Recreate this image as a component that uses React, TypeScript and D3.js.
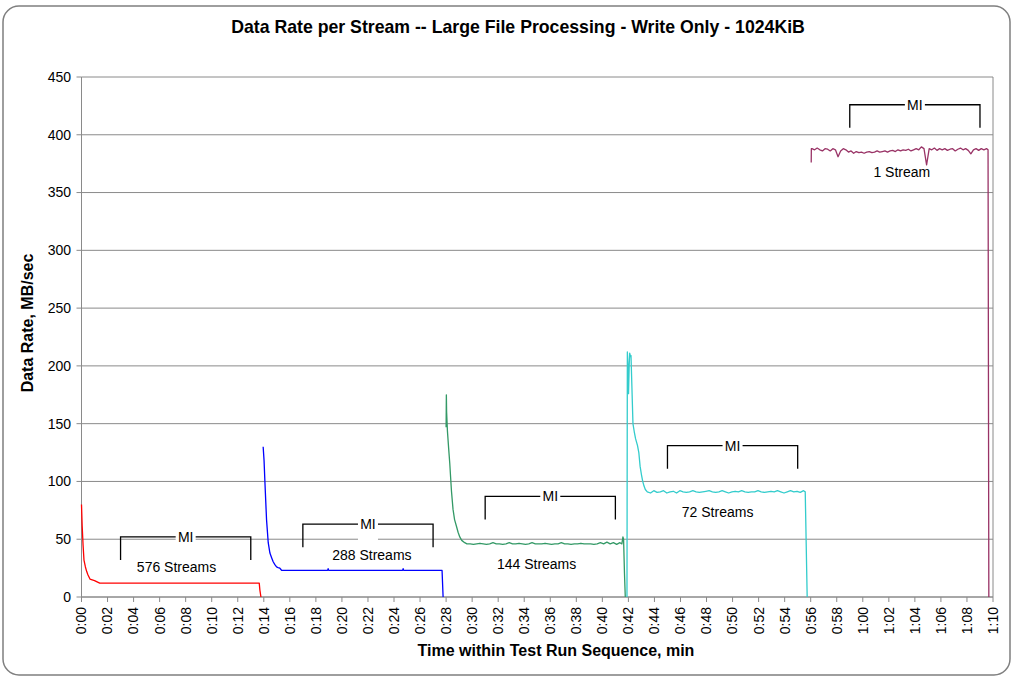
import React from "react";
import * as d3 from "d3";

type Pt = [number, number];

// ---- data (minutes, MB/sec) ----
const redPoints: Pt[] = [
  [0, 80], [0.05, 62], [0.12, 45], [0.19, 32], [0.3, 26], [0.4, 22], [0.5, 19],
  [0.65, 15.5], [1.0, 14.2], [1.4, 12], [13.65, 12], [13.7, 6], [13.78, 0],
];

const bluePoints: Pt[] = [
  [13.95, 130], [14.02, 118], [14.08, 101], [14.21, 67], [14.34, 47], [14.47, 38],
  [14.6, 34], [14.72, 30.5], [14.85, 28], [14.98, 26], [15.1, 25.5], [15.23, 25],
  [15.3, 24], [15.37, 23], [18.9, 23], [18.94, 24.5], [18.98, 23], [24.66, 23],
  [24.7, 24.5], [24.74, 23], [27.69, 23], [27.77, 0],
];

const greenRamp: Pt[] = [
  [28.0, 147], [28.02, 175], [28.04, 160], [28.1, 144], [28.2, 128], [28.28, 116],
  [28.35, 103], [28.41, 92], [28.53, 76], [28.65, 67], [28.8, 61], [28.92, 56],
  [29.05, 52], [29.2, 49], [29.43, 47],
];
const greenSteadyStart = 29.6;
const greenSteady = [
  46, 46, 45.5, 46, 46.5, 46, 45.5, 46, 47, 46, 46, 45.5, 46, 47, 46, 46, 46.5, 46,
  45.5, 46, 47, 46, 46, 46, 46.5, 46, 45.5, 46, 46, 47, 46, 46, 45.5, 46, 46, 46.5,
  46, 46, 46, 45.5, 46, 47, 46, 47.5, 46, 47, 45.5, 47,
];
const greenTail: Pt[] = [[41.5, 46], [41.58, 52], [41.63, 50], [41.7, 20], [41.76, 0]];

const cyanRamp: Pt[] = [
  [41.89, 0], [41.92, 212], [41.97, 200], [42.01, 176], [42.06, 200], [42.1, 211],
  [42.16, 208], [42.2, 209], [42.35, 150], [42.45, 143], [42.55, 137], [42.7, 131],
  [42.8, 125], [42.9, 113], [43.0, 106], [43.1, 100], [43.2, 96], [43.3, 93],
];
const cyanSteadyStart = 43.45;
const cyanSteady = [
  91, 90, 92, 90.5, 91, 92, 90, 91, 91.5, 90, 92, 91, 90.5, 91, 92, 91, 90.5, 91,
  91.5, 92, 91, 90.5, 91, 92, 91, 90, 91, 91.5, 91, 92, 91, 90.5, 91, 91, 92, 91,
  90.5, 91, 91.5, 91, 92, 91, 90, 91, 92, 91, 91.5, 90.5, 92,
];
const cyanTail: Pt[] = [[55.58, 91], [55.73, 0]];

const purpleHead: Pt[] = [[56.04, 376], [56.05, 388]];
const purpleSteadyStart = 56.1;
const purpleSteady = [
  388, 387, 388.5, 387, 386, 388, 387.5, 386, 388, 387, 381, 386, 388, 387, 385,
  386, 384, 385.5, 384.5, 385, 384, 385, 385.5, 384.5, 385, 386, 385, 385.5, 386,
  385, 386, 386.5, 385.5, 387, 386, 387, 386.5, 387.5, 386, 387, 388, 387, 389.5,
  388, 374, 388, 387, 388.5, 386.5, 388, 387, 388, 386.5, 387.5, 388, 386, 387.5,
  388.5, 387, 388, 386.5, 383.5, 387, 388, 386.5, 388, 387, 388,
];
const purpleTail: Pt[] = [[69.62, 387], [69.68, 0]];

const steadyStep = { green: 0.25, cyan: 0.25, purple: 0.2 };

// MI brackets & stream labels
const miStarts = [3, 17, 31, 45, 59];
const miEnds = [13, 27, 41, 55, 69];
const miTops = [52, 63, 87, 131, 426];
const miDrop = 20;
const streamLabels = ["576 Streams", "288 Streams", "144 Streams", "72 Streams", "1 Stream"];
const streamLabelT = [7.3, 22.3, 34.95, 48.85, 63.0];
const streamLabelV = [25.5, 36.3, 28.7, 73.8, 367.5];

const yTicks = [0, 50, 100, 150, 200, 250, 300, 350, 400, 450];
const xTicks = d3.range(0, 71, 2);

const colors = ["#FF0000", "#0000FF", "#339966", "#33CCCC", "#993366"];

const title = "Data Rate per Stream -- Large File Processing - Write Only - 1024KiB";
const xTitle = "Time within Test Run Sequence, min";
const yTitle = "Data Rate, MB/sec";

function steady(start: number, step: number, vals: number[]): Pt[] {
  return vals.map((v, i) => [start + i * step, v] as Pt);
}

const series: Pt[][] = [
  redPoints,
  bluePoints,
  [...greenRamp, ...steady(greenSteadyStart, steadyStep.green, greenSteady), ...greenTail],
  [...cyanRamp, ...steady(cyanSteadyStart, steadyStep.cyan, cyanSteady), ...cyanTail],
  [...purpleHead, ...steady(purpleSteadyStart, steadyStep.purple, purpleSteady), ...purpleTail],
];

const fmtTime = (m: number) => `${Math.floor(m / 60)}:${String(m % 60).padStart(2, "0")}`;

export default function App() {
  const W = 1012, H = 677;
  const left = 81.5, right = 993, top = 77, bottom = 597;
  const x = d3.scaleLinear().domain([0, 70]).range([left, right]);
  const y = d3.scaleLinear().domain([0, 450]).range([bottom, top]);
  const line = d3.line<Pt>().x((d) => x(d[0])).y((d) => y(d[1]));
  const font = "'Liberation Sans', Arial, sans-serif";
  const grid = "#8a8a8a";

  return (
    <svg
      width={W}
      height={H}
      style={{ position: "absolute", left: 0, top: 0, background: "#fff" }}
      fontFamily={font}
    >
      <rect x={3} y={6} width={1007} height={669} rx={16} ry={16} fill="#fff" stroke="#7f7f7f" strokeWidth={1.5} />
      <text x={518} y={33} textAnchor="middle" fontSize={17.7} fontWeight="bold" fill="#000">
        {title}
      </text>

      {/* gridlines */}
      {yTicks.map((t) => (
        <line key={"g" + t} x1={left} x2={right} y1={y(t)} y2={y(t)} stroke={grid} strokeWidth={1} />
      ))}
      <line x1={right} x2={right} y1={top} y2={bottom} stroke={grid} strokeWidth={1} />
      <line x1={left} x2={left} y1={top} y2={bottom} stroke={grid} strokeWidth={1} />
      <line x1={left} x2={right} y1={bottom} y2={bottom} stroke={grid} strokeWidth={1} />

      {/* y ticks */}
      {yTicks.map((t) => (
        <g key={"y" + t}>
          <line x1={left - 5} x2={left} y1={y(t)} y2={y(t)} stroke={grid} />
          <text x={71} y={y(t)} dy="0.35em" textAnchor="end" fontSize={14} fill="#000">
            {t}
          </text>
        </g>
      ))}

      {/* x ticks */}
      {xTicks.map((t) => (
        <g key={"x" + t}>
          <line x1={x(t)} x2={x(t)} y1={bottom} y2={bottom + 5} stroke={grid} />
          <text
            transform={`translate(${x(t)},${bottom + 10}) rotate(-90)`}
            dy="0.35em"
            textAnchor="end"
            fontSize={14}
            fill="#000"
          >
            {fmtTime(t)}
          </text>
        </g>
      ))}

      {/* axis titles */}
      <text x={556} y={656} textAnchor="middle" fontSize={16} fontWeight="bold" fill="#000">
        {xTitle}
      </text>
      <text transform="translate(33,323) rotate(-90)" textAnchor="middle" fontSize={16} fontWeight="bold" fill="#000">
        {yTitle}
      </text>

      {/* series */}
      {series.map((s, i) => (
        <path key={"s" + i} d={line(s) || ""} fill="none" stroke={colors[i]} strokeWidth={1.3} strokeLinejoin="round" />
      ))}

      {/* MI brackets */}
      {miStarts.map((s, i) => {
        const x1 = x(s), x2 = x(miEnds[i]);
        const yt = y(miTops[i]), yb = y(miTops[i] - miDrop);
        const cx = (x1 + x2) / 2;
        return (
          <g key={"mi" + i}>
            <path d={`M${x1},${yb}V${yt}H${x2}V${yb}`} fill="none" stroke="#000" strokeWidth={1.3} />
            <rect x={cx - 10} y={yt - 11} width={20} height={28} fill="#fff" />
            <text x={cx} y={yt} dy="0.35em" textAnchor="middle" fontSize={14} fill="#000">
              MI
            </text>
          </g>
        );
      })}

      {/* stream labels */}
      {streamLabels.map((l, i) => (
        <text key={"l" + i} x={x(streamLabelT[i])} y={y(streamLabelV[i])} dy="0.35em" textAnchor="middle" fontSize={14} fill="#000">
          {l}
        </text>
      ))}
    </svg>
  );
}
